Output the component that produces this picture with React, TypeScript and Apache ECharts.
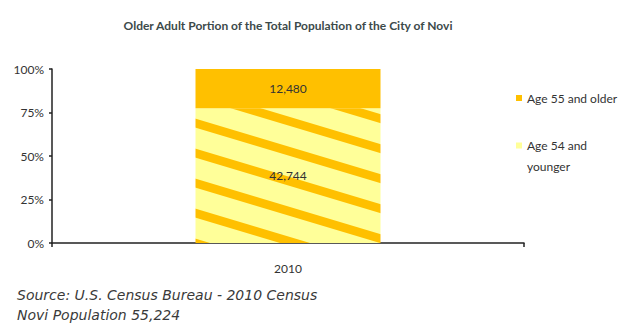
import React, { useEffect, useRef } from "react";
import * as echarts from "echarts";

const categories = ["2010"];
const olderValues = [12480];
const youngerValues = [42744];
const seriesNames = ["Age 55 and older", "Age 54 and younger"];
const yTicks = [0, 25, 50, 75, 100];
const titleText = "Older Adult Portion of the Total Population of the City of Novi";
const sourceLines = ["Source: U.S. Census Bureau - 2010 Census", "Novi Population 55,224"];

function makeHatch(): string {
  const c = document.createElement("canvas");
  c.width = 100;
  c.height = 30;
  const ctx = c.getContext("2d")!;
  ctx.fillStyle = "#FFFF99";
  ctx.fillRect(0, 0, 100, 30);
  ctx.fillStyle = "#FFC000";
  for (const k of [-60, -30, 0, 30]) {
    ctx.beginPath();
    ctx.moveTo(0, k);
    ctx.lineTo(100, k + 30);
    ctx.lineTo(100, k + 39);
    ctx.lineTo(0, k + 9);
    ctx.closePath();
    ctx.fill();
  }
  return c.toDataURL();
}

export default function App() {
  const ref = useRef<HTMLDivElement>(null);
  useEffect(() => {
    if (!ref.current) return;
    const chart = echarts.init(ref.current, null, { renderer: "svg" });
    const totals = categories.map((_, i) => olderValues[i] + youngerValues[i]);
    const olderPct = olderValues.map((v, i) => (v / totals[i]) * 100);
    const youngerPct = youngerValues.map((v, i) => (v / totals[i]) * 100);
    const hatch = makeHatch();
    const labelStyle = {
      show: true,
      position: "inside" as const,
      color: "#333",
      fontSize: 12,
      fontFamily: "Lato",
    };
    const legendText = { fontSize: 12, color: "#333", fontFamily: "Lato" };
    chart.setOption({
      animation: false,
      title: {
        text: titleText,
        left: 283,
        top: 14,
        textAlign: "center",
        textStyle: { fontSize: 12, fontWeight: "bold", color: "#3c4a4a", fontFamily: "Lato" },
      },
      legend: [
        {
          data: [seriesNames[0]],
          left: 511,
          top: 87,
          icon: "rect",
          itemWidth: 6,
          itemHeight: 6,
          selectedMode: false,
          textStyle: legendText,
        },
        {
          data: [seriesNames[1]],
          left: 511,
          top: 109,
          icon: "rect",
          itemWidth: 6,
          itemHeight: 6,
          selectedMode: false,
          itemStyle: { color: "#FFFF99" },
          formatter: () => "\nAge 54 and\nyounger",
          textStyle: { ...legendText, lineHeight: 21 },
        },
      ],
      grid: { left: 52, right: 96, top: 69, bottom: 82, containLabel: false },
      xAxis: {
        type: "category",
        data: categories,
        axisLine: { lineStyle: { color: "#222", width: 1.5 } },
        axisTick: { show: true, length: 4, lineStyle: { color: "#222", width: 1.5 } },
        axisLabel: { color: "#333", fontSize: 12, fontFamily: "Lato", margin: 19 },
      },
      yAxis: {
        type: "value",
        min: 0,
        max: 100,
        interval: 25,
        axisLine: { show: true, lineStyle: { color: "#222", width: 1.5 } },
        axisTick: { show: true, length: 3, lineStyle: { color: "#222", width: 1.5 } },
        splitLine: { show: false },
        axisLabel: {
          color: "#333",
          fontSize: 12,
          fontFamily: "Lato",
          margin: 8,
          formatter: (v: number) => (yTicks.includes(v) ? `${v}%` : ""),
        },
      },
      series: [
        {
          name: seriesNames[1],
          type: "bar",
          stack: "total",
          barWidth: 185,
          data: youngerPct,
          itemStyle: { color: { image: hatch, repeat: "repeat" } as any },
          label: { ...labelStyle, formatter: (p: any) => youngerValues[p.dataIndex].toLocaleString("en-US") },
        },
        {
          name: seriesNames[0],
          type: "bar",
          stack: "total",
          barWidth: 185,
          data: olderPct,
          itemStyle: { color: "#FFC000" },
          label: { ...labelStyle, formatter: (p: any) => olderValues[p.dataIndex].toLocaleString("en-US") },
        },
      ],
      graphic: sourceLines.map((t, i) => ({
        type: "text",
        left: 17,
        top: 288 + i * 20,
        style: {
          text: t,
          fontSize: 14,
          fontStyle: "italic",
          fontFamily: "DejaVu Sans",
          fill: "#3a3a3a",
        },
      })),
    });
    return () => chart.dispose();
  }, []);
  return (
    <div
      ref={ref}
      style={{ position: "fixed", left: 0, top: 0, width: 620, height: 325, background: "#fff" }}
    />
  );
}
